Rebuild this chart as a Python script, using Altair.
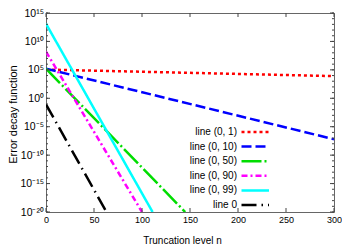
import altair as alt
import pandas as pd

# ---- data ----
series = ["line (0, 1)", "line (0, 10)", "line (0, 50)", "line (0, 90)", "line (0, 99)", "line 0"]
start_n = [0, 0, 0, 0, 0, 0]
start_v = [1.12e5, 1.6e5, 1.6e5, 1.6e8, 1.3e13, 8.5e-2]
end_n = [300, 300, 145, 100, 111, 63]
end_v = [7.9e3, 6.3e-8, 1e-20, 1e-20, 1e-20, 1e-20]

colors = ["#ff0000", "#0000ff", "#00dd00", "#ff00ff", "#00ffff", "#000000"]
dashes = [[3, 3], [10, 4], [20, 3, 2, 3], [6, 3, 2, 3], [1, 0], [15, 5, 1.5, 5]]

x_ticks = [0, 50, 100, 150, 200, 250, 300]
y_major_exp = [-20, -15, -10, -5, 0, 5, 10, 15]
y_minor_exp = list(range(-20, 16))

FONT = "Liberation Sans"
TICKC = "#444444"
W, H = 288, 199

rows = []
for s, n0, v0, n1, v1 in zip(series, start_n, start_v, end_n, end_v):
    rows.append({"series": s, "n": n0, "v": v0})
    rows.append({"series": s, "n": n1, "v": v1})
df = pd.DataFrame(rows)

ymaj = pd.DataFrame({"v": [10.0 ** e for e in y_major_exp]})
ymin = pd.DataFrame({"v": [10.0 ** e for e in y_minor_exp]})
xt = pd.DataFrame({"n": x_ticks})
leg = pd.DataFrame({"series": series})

SUP = {"0": "⁰", "1": "¹", "2": "²", "3": "³", "4": "⁴", "5": "⁵",
       "6": "⁶", "7": "⁷", "8": "⁸", "9": "⁹", "-": "⁻"}


def sup(e):
    return "10" + "".join(SUP[c] for c in str(e))


expr = "'" + sup(y_major_exp[0]) + "'"
for e in y_major_exp[1:]:
    expr = f"datum.value > 1e{e - 1} ? '{sup(e)}' : ({expr})"

xscale = alt.Scale(domain=[0, 300], nice=False)
yscale = alt.Scale(type="log", domain=[1e-20, 1e15], nice=False)
color = alt.Color("series:N", scale=alt.Scale(domain=series, range=colors), legend=None)
dash = alt.StrokeDash("series:N", scale=alt.Scale(domain=series, range=dashes), legend=None)

xaxis = alt.Axis(values=x_ticks, ticks=False, domain=False, grid=False, labelFlush=False,
                 labelPadding=3, labelFontSize=9, labelFont=FONT, labelColor="black",
                 title="Truncation level n", titleFont=FONT, titleFontSize=10,
                 titleFontWeight="normal", titleColor="black",
                 titleX=136, titleY=31, titleBaseline="alphabetic")

lines = alt.Chart(df).mark_line(strokeWidth=2.5, clip=True).encode(
    x=alt.X("n:Q", scale=xscale, axis=xaxis),
    y=alt.Y("v:Q", scale=yscale,
            axis=alt.Axis(values=[10.0 ** e for e in y_major_exp], labelExpr=expr,
                          ticks=False, domain=False, grid=False, labelPadding=2.5,
                          labelFontSize=10.5, labelFont=FONT, labelColor="black",
                          labelBaseline="middle",
                          title="Error decay function", titleFont=FONT, titleFontSize=11,
                          titleFontWeight="normal", titleColor="black",
                          titleX=-33, titleY=101, titleAngle=270,
                          titleBaseline="middle", titleAlign="center")),
    color=color,
    strokeDash=dash,
    detail="series:N",
)


def yrule(data, x1, x2):
    return alt.Chart(data).mark_rule(color=TICKC, strokeWidth=1).encode(
        y=alt.Y("v:Q", scale=yscale, axis=None), x=alt.value(x1), x2=alt.value(x2))


def xrule(y1, y2):
    return alt.Chart(xt).mark_rule(color=TICKC, strokeWidth=1).encode(
        x=alt.X("n:Q", scale=xscale, axis=xaxis), y=alt.value(y1), y2=alt.value(y2))


ticks = [
    yrule(ymaj, 0, 4), yrule(ymaj, W, W - 4),
    yrule(ymin, 0, 2), yrule(ymin, W, W - 2),
    xrule(H, H - 4), xrule(0, 4),
]

yleg = alt.Y("series:N", sort=series,
             scale=alt.Scale(type="point", range=[119, 192], padding=0), axis=None)
leg_text = alt.Chart(leg).mark_text(align="right", baseline="middle", fontSize=10,
                                    font=FONT, color="black").encode(
    x=alt.value(191), y=yleg, text="series:N")
leg_sym = alt.Chart(leg).mark_rule(strokeWidth=2.5).encode(
    x=alt.value(195.5), x2=alt.value(223), y=yleg, color=color, strokeDash=dash)

chart = alt.layer(lines, *ticks, leg_text, leg_sym).resolve_scale(
    y="independent"
).properties(
    width=W, height=H,
    padding={"left": 38, "top": 5, "right": 8, "bottom": 33},
    autosize=alt.AutoSizeParams(type="none"),
).configure_view(stroke="#666666", strokeWidth=1)

chart.save("out.html", embed_options={"renderer": "svg", "actions": False})
